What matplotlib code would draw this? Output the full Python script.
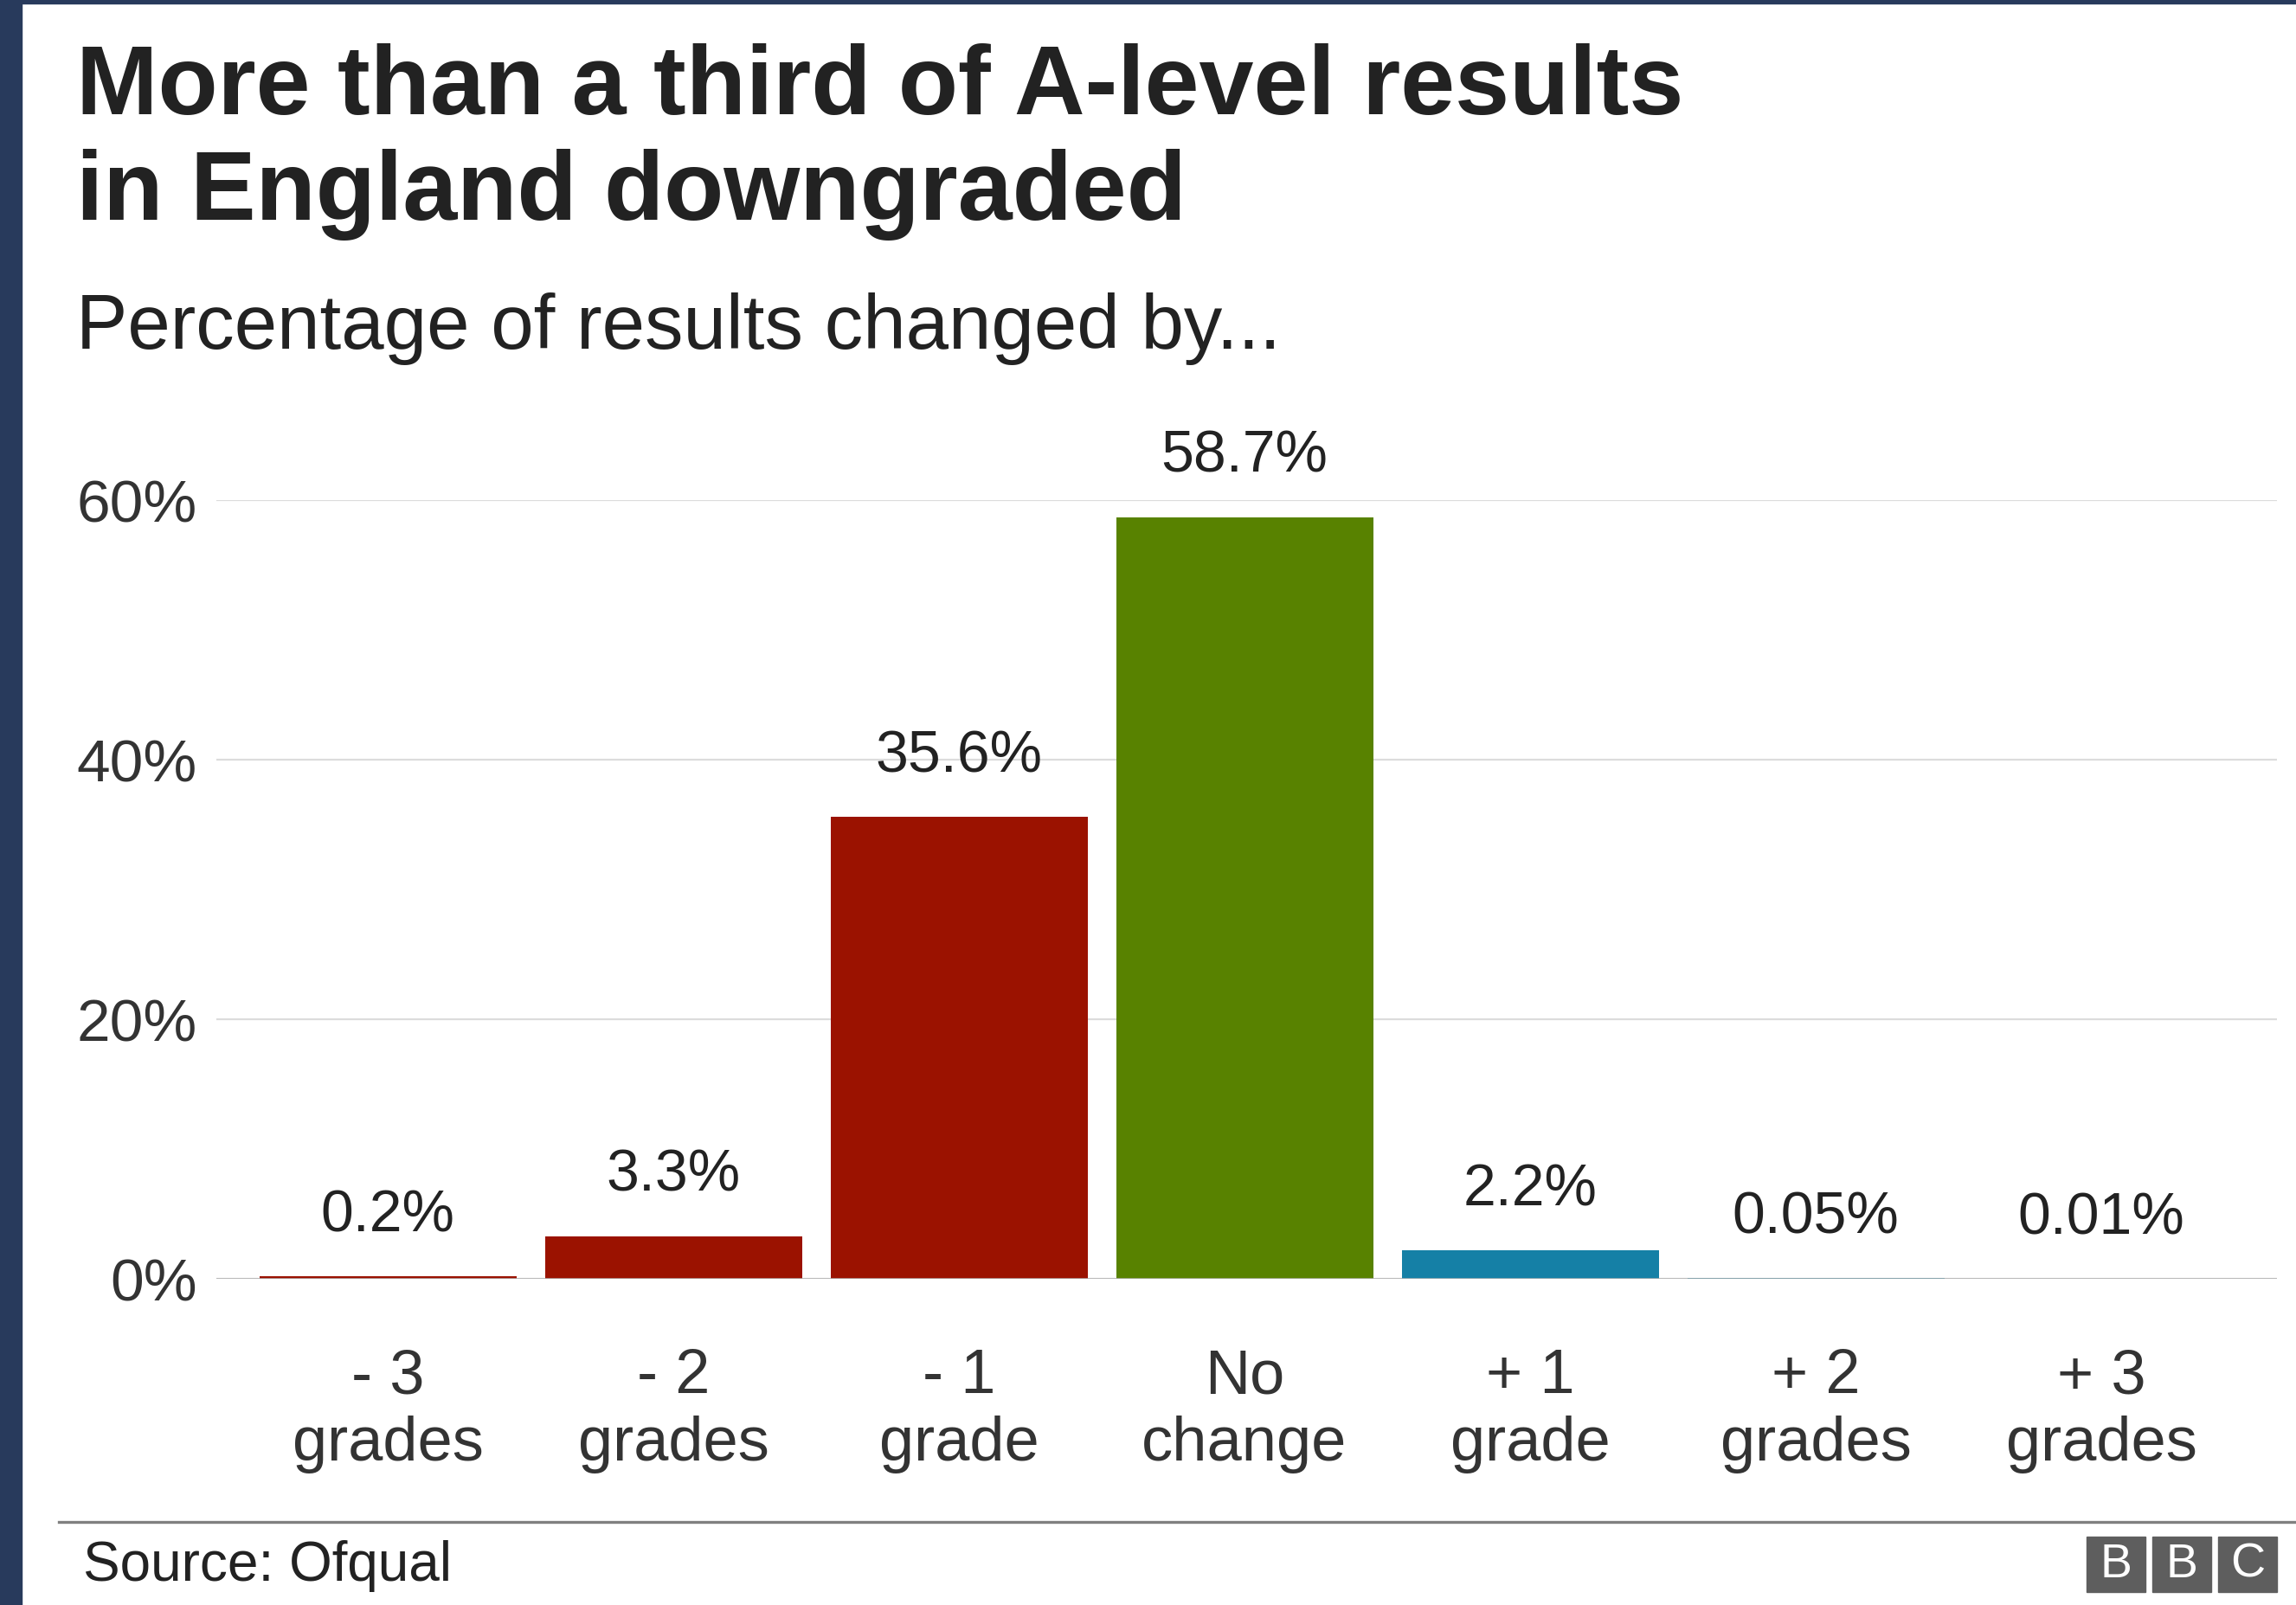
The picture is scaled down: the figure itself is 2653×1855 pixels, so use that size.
import matplotlib
matplotlib.use("Agg")
from matplotlib import pyplot as plt
from matplotlib.patches import Rectangle
from matplotlib.lines import Line2D

plt.rcParams['font.family'] = ['Liberation Sans', 'DejaVu Sans']

categories = ["- 3\ngrades", "- 2\ngrades", "- 1\ngrade", "No\nchange",
              "+ 1\ngrade", "+ 2\ngrades", "+ 3\ngrades"]
values = [0.2, 3.3, 35.6, 58.7, 2.2, 0.05, 0.01]
value_labels = ["0.2%", "3.3%", "35.6%", "58.7%", "2.2%", "0.05%", "0.01%"]
bar_colors = ["#9b1200", "#9b1200", "#9b1200", "#588200", "#1580a6", "#1580a6", "#1580a6"]
yticks = [0, 20, 40, 60]
ytick_labels = ["0%", "20%", "40%", "60%"]

W, H = 2653, 1856
fig = plt.figure(figsize=(W / 100, H / 100), dpi=100)
fig.patch.set_facecolor("white")

# navy frame at left and top
fig.patches.append(Rectangle((0, 0), 25 / W, 1, transform=fig.transFigure, color="#283a5c", zorder=0))
fig.patches.append(Rectangle((0, 1 - 5 / H), 1, 5 / H, transform=fig.transFigure, color="#283a5c", zorder=0))

# title + subtitle
fig.text(88 / W, 1 - 132 / H, "More than a third of A-level results", fontsize=81.5,
         fontweight="bold", color="#222222", va="baseline", ha="left")
fig.text(88 / W, 1 - 254 / H, "in England downgraded", fontsize=81.5,
         fontweight="bold", color="#222222", va="baseline", ha="left")
fig.text(88 / W, 1 - 403 / H, "Percentage of results changed by...", fontsize=64,
         color="#222222", va="baseline", ha="left")

ax = fig.add_axes([250 / W, 1 - 1479 / H, (2631 - 250) / W, 900 / H])
x = range(len(values))
ax.bar(x, values, width=0.9, color=bar_colors, zorder=3)
ax.set_xlim(-0.6, 6.615)
ax.set_ylim(0, 60)

for i, v in enumerate(values):
    ax.annotate(value_labels[i], (i, v), xytext=(0, 51), textcoords="offset points",
                ha="center", va="center", fontsize=49, color="#222222")

ax.set_yticks(yticks)
ax.set_yticklabels(ytick_labels)
ax.set_xticks(list(x))
ax.set_xticklabels(categories, linespacing=1.2)
ax.tick_params(axis="y", length=0, pad=16, labelsize=50, labelcolor="#333333")
ax.tick_params(axis="x", length=0, pad=57, labelsize=52, labelcolor="#333333")
for s in ax.spines.values():
    s.set_visible(False)
ax.yaxis.grid(True, color="#dcdcdc", linewidth=1.6, zorder=0)
ax.axhline(0, color="#b0b0b0", linewidth=1.8, zorder=4)

# footer
fig.add_artist(Line2D([68 / W, 1], [1 - 1760 / H, 1 - 1760 / H], color="#808080", linewidth=2.4))
fig.text(96 / W, 1 - 1810 / H, "Source: Ofqual", fontsize=46, color="#222222", va="center", ha="left")

# BBC blocks
bx = 2411
for letter in ["B", "B", "C"]:
    fig.patches.append(Rectangle((bx / W, 1 - 1841 / H), 68 / W, 64 / H,
                                 transform=fig.transFigure, color="#5e5e5e"))
    fig.text((bx + 34) / W, 1 - 1809 / H, letter, fontsize=40,
             color="white", ha="center", va="center")
    bx += 76

fig.savefig("out.png", dpi=100)
